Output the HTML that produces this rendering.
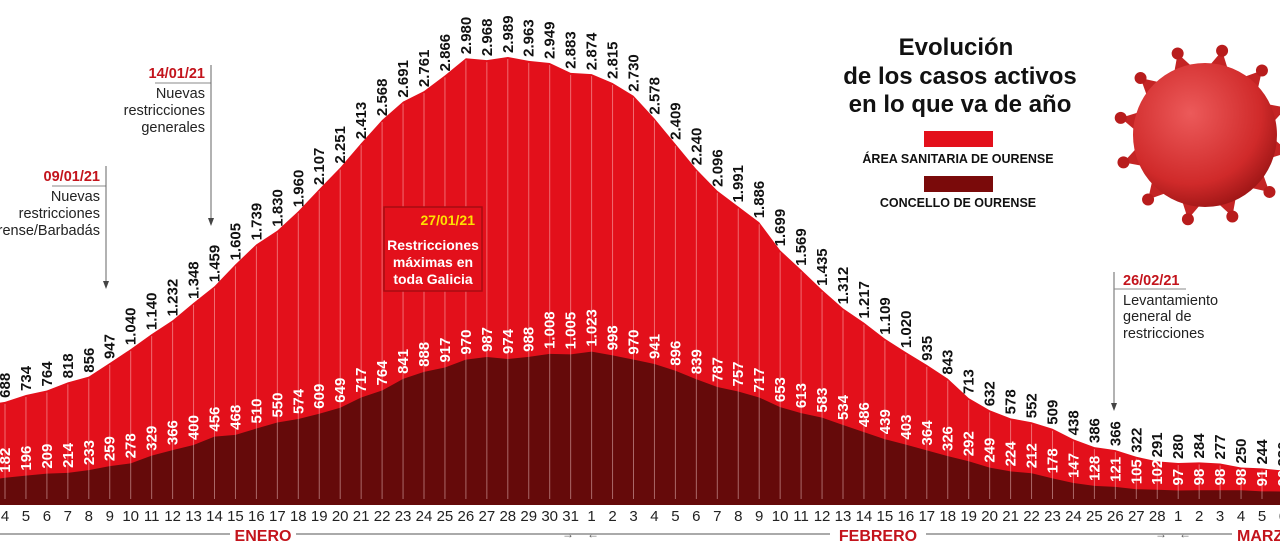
<!DOCTYPE html>
<html><head><meta charset="utf-8">
<style>
html,body{margin:0;padding:0;background:#fff;}
svg{display:block;font-family:"Liberation Sans",sans-serif;}
.rl{font-weight:bold;font-size:15px;fill:#111;}
.dl{font-weight:bold;font-size:15px;fill:#fff;}
.xl{font-size:15px;fill:#222;}
.ann{font-size:14.5px;fill:#222;}
.date{font-size:14.5px;font-weight:bold;fill:#c3141c;}
</style></head><body>
<svg id="s" width="1280" height="548" viewBox="0 0 1280 548">
<defs>
<radialGradient id="vg" cx="0.4" cy="0.35" r="0.7">
<stop offset="0" stop-color="#ec5a5a"/><stop offset="0.7" stop-color="#d02a2a"/><stop offset="1" stop-color="#9a1414"/>
</radialGradient>
</defs>
<g id="areas"></g>
<g id="grid"></g>
<rect x="384" y="207" width="98" height="84" fill="#e3101b" stroke="#a80c12" stroke-width="1.5"/>
<text x="475" y="225" text-anchor="end" style="font-weight:bold;font-size:14px;fill:#ffe000">27/01/21</text>
<text x="433" y="250" text-anchor="middle" style="font-weight:bold;font-size:14px;fill:#fff">Restricciones</text>
<text x="433" y="267" text-anchor="middle" style="font-weight:bold;font-size:14px;fill:#fff">máximas en</text>
<text x="433" y="284" text-anchor="middle" style="font-weight:bold;font-size:14px;fill:#fff">toda Galicia</text>
<g id="rl" class="rl"><text>688</text><text>734</text><text>764</text><text>818</text><text>856</text><text>947</text><text>1.040</text><text>1.140</text><text>1.232</text><text>1.348</text><text>1.459</text><text>1.605</text><text>1.739</text><text>1.830</text><text>1.960</text><text>2.107</text><text>2.251</text><text>2.413</text><text>2.568</text><text>2.691</text><text>2.761</text><text>2.866</text><text>2.980</text><text>2.968</text><text>2.989</text><text>2.963</text><text>2.949</text><text>2.883</text><text>2.874</text><text>2.815</text><text>2.730</text><text>2.578</text><text>2.409</text><text>2.240</text><text>2.096</text><text>1.991</text><text>1.886</text><text>1.699</text><text>1.569</text><text>1.435</text><text>1.312</text><text>1.217</text><text>1.109</text><text>1.020</text><text>935</text><text>843</text><text>713</text><text>632</text><text>578</text><text>552</text><text>509</text><text>438</text><text>386</text><text>366</text><text>322</text><text>291</text><text>280</text><text>284</text><text>277</text><text>250</text><text>244</text><text>230</text></g>
<g id="dl" class="dl"><text>182</text><text>196</text><text>209</text><text>214</text><text>233</text><text>259</text><text>278</text><text>329</text><text>366</text><text>400</text><text>456</text><text>468</text><text>510</text><text>550</text><text>574</text><text>609</text><text>649</text><text>717</text><text>764</text><text>841</text><text>888</text><text>917</text><text>970</text><text>987</text><text>974</text><text>988</text><text>1.008</text><text>1.005</text><text>1.023</text><text>998</text><text>970</text><text>941</text><text>896</text><text>839</text><text>787</text><text>757</text><text>717</text><text>653</text><text>613</text><text>583</text><text>534</text><text>486</text><text>439</text><text>403</text><text>364</text><text>326</text><text>292</text><text>249</text><text>224</text><text>212</text><text>178</text><text>147</text><text>128</text><text>121</text><text>105</text><text>102</text><text>97</text><text>98</text><text>98</text><text>98</text><text>91</text><text>90</text></g>
<g id="xl" class="xl" text-anchor="middle"><text>4</text><text>5</text><text>6</text><text>7</text><text>8</text><text>9</text><text>10</text><text>11</text><text>12</text><text>13</text><text>14</text><text>15</text><text>16</text><text>17</text><text>18</text><text>19</text><text>20</text><text>21</text><text>22</text><text>23</text><text>24</text><text>25</text><text>26</text><text>27</text><text>28</text><text>29</text><text>30</text><text>31</text><text>1</text><text>2</text><text>3</text><text>4</text><text>5</text><text>6</text><text>7</text><text>8</text><text>9</text><text>10</text><text>11</text><text>12</text><text>13</text><text>14</text><text>15</text><text>16</text><text>17</text><text>18</text><text>19</text><text>20</text><text>21</text><text>22</text><text>23</text><text>24</text><text>25</text><text>26</text><text>27</text><text>28</text><text>1</text><text>2</text><text>3</text><text>4</text><text>5</text><text>6</text></g>
<line x1="0" y1="534" x2="1280" y2="534" stroke="#777" stroke-width="1.2"/>
<text x="574" y="538" style="font-size:12px;fill:#555" text-anchor="end">→</text>
<text x="587" y="538" style="font-size:12px;fill:#555">←</text>
<text x="1167" y="538" style="font-size:12px;fill:#555" text-anchor="end">→</text>
<text x="1179" y="538" style="font-size:12px;fill:#555">←</text>
<rect x="230" y="525" width="66" height="18" fill="#fff"/>
<text x="263" y="541" text-anchor="middle" style="font-weight:bold;font-size:16px;fill:#c3141c">ENERO</text>
<rect x="830" y="525" width="96" height="18" fill="#fff"/>
<text x="878" y="541" text-anchor="middle" style="font-weight:bold;font-size:16px;fill:#c3141c">FEBRERO</text>
<rect x="1232" y="525" width="48" height="18" fill="#fff"/>
<text x="1237" y="541" style="font-weight:bold;font-size:16px;fill:#c3141c">MARZO</text>
<text x="100" y="181" text-anchor="end" class="date">09/01/21</text>
<line x1="52" y1="186" x2="106" y2="186" stroke="#888"/>
<line x1="106" y1="166" x2="106" y2="285" stroke="#666"/>
<path d="M103,281 L106,289 L109,281Z" fill="#444"/>
<text x="100" y="201" text-anchor="end" class="ann">Nuevas</text>
<text x="100" y="218" text-anchor="end" class="ann">restricciones</text>
<text x="100" y="235" text-anchor="end" class="ann">Ourense/Barbadás</text>
<text x="205" y="78" text-anchor="end" class="date">14/01/21</text>
<line x1="155" y1="83" x2="211" y2="83" stroke="#888"/>
<line x1="211" y1="65" x2="211" y2="222" stroke="#666"/>
<path d="M208,218 L211,226 L214,218Z" fill="#444"/>
<text x="205" y="98" text-anchor="end" class="ann">Nuevas</text>
<text x="205" y="115" text-anchor="end" class="ann">restricciones</text>
<text x="205" y="132" text-anchor="end" class="ann">generales</text>
<line x1="1114" y1="272" x2="1114" y2="407" stroke="#666"/>
<path d="M1111,403 L1114,411 L1117,403Z" fill="#444"/>
<text x="1123" y="285" class="date">26/02/21</text>
<line x1="1114" y1="289" x2="1186" y2="289" stroke="#888"/>
<text x="1123" y="305" class="ann">Levantamiento</text>
<text x="1123" y="321" class="ann">general de</text>
<text x="1123" y="338" class="ann">restricciones</text>
<g style="font-weight:bold;fill:#111" text-anchor="middle">
<text x="956" y="55" style="font-size:24px">Evolución</text>
<text x="960" y="84" style="font-size:24px">de los casos activos</text>
<text x="960" y="112" style="font-size:24px">en lo que va de año</text>
<text x="958" y="163" style="font-size:12.5px">ÁREA SANITARIA DE OURENSE</text>
<text x="958" y="207" style="font-size:12.5px">CONCELLO DE OURENSE</text>
</g>
<rect x="924" y="131" width="69" height="16" fill="#e3101b"/>
<rect x="924" y="176" width="69" height="16" fill="#7a0a0a"/>
<g id="virus"></g>
<circle cx="1205" cy="135" r="72" fill="url(#vg)"/>
</svg>
<script>
var red=[688,734,764,818,856,947,1040,1140,1232,1348,1459,1605,1739,1830,1960,2107,2251,2413,2568,2691,2761,2866,2980,2968,2989,2963,2949,2883,2874,2815,2730,2578,2409,2240,2096,1991,1886,1699,1569,1435,1312,1217,1109,1020,935,843,713,632,578,552,509,438,386,366,322,291,280,284,277,250,244,230];
var dk=[182,196,209,214,233,259,278,329,366,400,456,468,510,550,574,609,649,717,764,841,888,917,970,987,974,988,1008,1005,1023,998,970,941,896,839,787,757,717,653,613,583,534,486,439,403,364,326,292,249,224,212,178,147,128,121,105,102,97,98,98,98,91,90];
var B=505,K=0.1499,NS="http://www.w3.org/2000/svg";
function X(i){return 5+20.95*i;}
function Y(v){return B-K*v;}
function el(t,a){var e=document.createElementNS(NS,t);for(var k in a)e.setAttribute(k,a[k]);return e;}
var ar=document.getElementById('areas');
function poly(arr,col){var p="-5,"+B+" -5,"+Y(arr[0]-10)+" ";for(var i=0;i<arr.length;i++)p+=X(i)+","+Y(arr[i])+" ";p+="1290,"+Y(arr[arr.length-1])+" 1290,"+B;ar.appendChild(el('polygon',{points:p,fill:col}));}
poly(red,"#e3101b");poly(dk,"#650a0a");
var g=document.getElementById('grid');
for(var i=0;i<red.length;i++){g.appendChild(el('line',{x1:X(i),x2:X(i),y1:Y(red[i])+2,y2:B-6,stroke:"rgba(255,220,220,0.45)","stroke-width":1}));}
var r=document.getElementById('rl').children;
for(var i=0;i<r.length;i++){var x=X(i)+5,y=Y(red[i])-4;r[i].setAttribute('x',x);r[i].setAttribute('y',y);r[i].setAttribute('transform','rotate(-90 '+x+' '+y+')');}
var d=document.getElementById('dl').children;
for(var i=0;i<d.length;i++){var x=X(i)+5,y=Y(dk[i])-5;d[i].setAttribute('x',x);d[i].setAttribute('y',y);d[i].setAttribute('transform','rotate(-90 '+x+' '+y+')');}
var xl=document.getElementById('xl').children;
for(var i=0;i<xl.length;i++){xl[i].setAttribute('x',X(i));xl[i].setAttribute('y',521);}
var v=document.getElementById('virus');
for(var a=0;a<12;a++){var t=a*Math.PI/6+0.2,c=Math.cos(t),s=Math.sin(t);
var bx=1205+66*c,by=135+66*s,tx=1205+86*c,ty=135+86*s;
v.appendChild(el('polygon',{points:(bx-11*s)+","+(by+11*c)+" "+(bx+11*s)+","+(by-11*c)+" "+tx+","+ty,fill:"#c42424"}));
v.appendChild(el('circle',{cx:tx,cy:ty,r:6,fill:"#b81c1c"}));}
</script>
</body></html>
